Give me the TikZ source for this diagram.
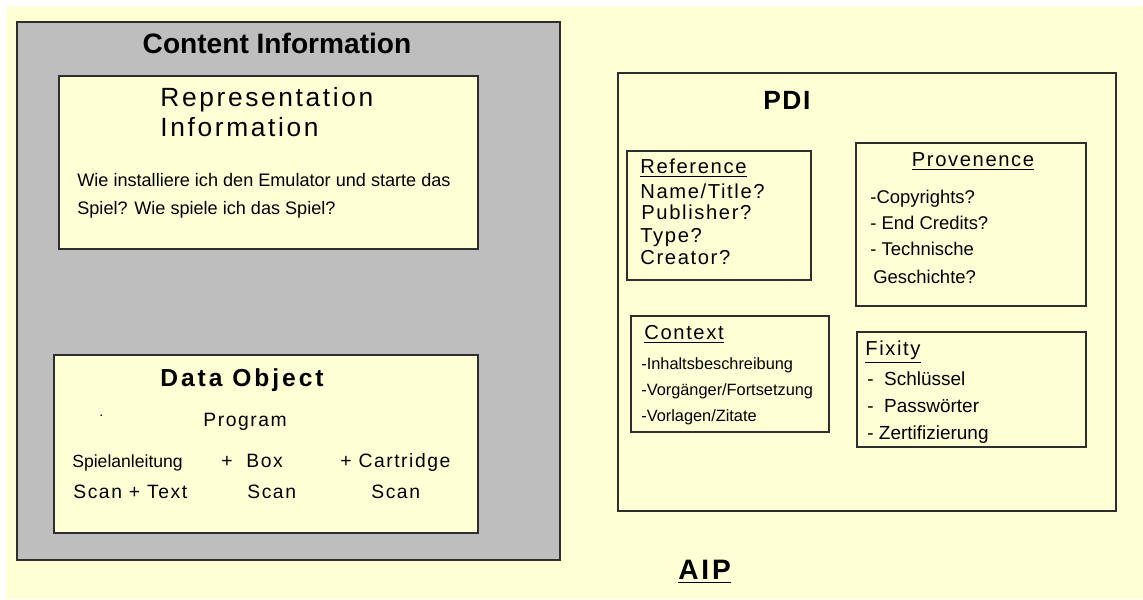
\documentclass[tikz,border=0pt]{standalone}
\usepackage{fontspec}
\setmainfont{Liberation Sans}
\newfontfamily\spaced[LetterSpace=8]{Liberation Sans}
\definecolor{paper}{HTML}{FFFFD6}
\definecolor{cigray}{HTML}{BEBEBE}
\definecolor{frame}{HTML}{2E2E2E}
\tikzset{
  box/.style={draw=frame, line width=0.9pt, fill=paper},
  txt/.style={anchor=west, inner sep=0pt, text height=1.5ex, text depth=.25ex},
  head/.style={txt, font=\spaced\fontsize{11.5}{13}\selectfont},
}
\begin{document}
\begin{tikzpicture}[x=0.02cm, y=-0.02cm]
                        % background and frame
                        \useasboundingbox (0,0) rectangle (1143,599);
                        \fill [white] (0,0) rectangle (1143,599);
                        \fill [paper] (6,6) rectangle (1143,599);

                        % content information
                        \draw [draw=frame, line width=1.1pt, fill=cigray] (17,22) rectangle (560,560);
                        \node [txt, anchor=center, font=\bfseries\fontsize{16}{18}\selectfont] (ci) at (277,48) {Content Information};
                        \draw [box] (59,76) rectangle (478,249);
                        \node [txt, font=\addfontfeature{LetterSpace=10}\fontsize{15}{17}\selectfont] (ri1) at (160,101) {Representation};
                        \node [txt, font=\addfontfeature{LetterSpace=10}\fontsize{15}{17}\selectfont] (ri2) at (160,131) {Information};
                        \node [txt, font=\fontsize{10.3}{12}\selectfont] (rq1) at (77,181) {Wie installiere ich den Emulator und starte das};
                        \node [txt, font=\fontsize{10.3}{12}\selectfont] (rq2) at (77,209) {Spiel? Wie spiele ich das Spiel?};

                        \draw [box] (54,355) rectangle (478,533);
                        \node [txt, font=\bfseries\addfontfeature{LetterSpace=12}\fontsize{14}{16}\selectfont] (do) at (160,381) {Data Object};
                        \node [txt, font=\fontsize{8}{9}\selectfont] (dot) at (99,411) {.};
                        \node [txt, font=\spaced\fontsize{11}{13}\selectfont] (prog) at (203,421) {Program};
                        \node [txt, font=\fontsize{10}{12}\selectfont] (sp) at (72,462) {Spielanleitung};
                        \node [txt, font=\spaced\fontsize{11}{13}\selectfont] (bx) at (221,462) {+\ \ Box};
                        \node [txt, font=\spaced\fontsize{11}{13}\selectfont] (ca) at (340,462) {+ Cartridge};
                        \node [txt, font=\spaced\fontsize{11}{13}\selectfont] (s1) at (73,493) {Scan + Text};
                        \node [txt, font=\spaced\fontsize{11}{13}\selectfont] (s2) at (247,493) {Scan};
                        \node [txt, font=\spaced\fontsize{11}{13}\selectfont] (s3) at (371,493) {Scan};

                        % preservation description information
                        \draw [box] (618,73) rectangle (1116,511);
                        \node [txt, font=\bfseries\addfontfeature{LetterSpace=6}\fontsize{15}{17}\selectfont] (pdi) at (763,104) {PDI};

                        \draw [box] (627,151) rectangle (811,280);
                        \node [head] (ref) at (640,168) {\underline{Reference}};
                        \node [head] (r1) at (640,193) {Name/Title?};
                        \node [head] (r2) at (641,214) {Publisher?};
                        \node [head] (r3) at (640,237) {Type?};
                        \node [head] (r4) at (640,259) {Creator?};

                        \draw [box] (856,143) rectangle (1086,306);
                        \node [head, anchor=center] (prov) at (973,161) {\underline{Provenence}};
                        \node [txt, font=\fontsize{10.5}{12}\selectfont] (p1) at (870,198) {-Copyrights?};
                        \node [txt, font=\fontsize{10.5}{12}\selectfont] (p2) at (870,224) {- End Credits?};
                        \node [txt, font=\fontsize{10.5}{12}\selectfont] (p3) at (870,250) {- Technische};
                        \node [txt, font=\fontsize{10.5}{12}\selectfont] (p4) at (873,278) {Geschichte?};

                        \draw [box] (631,316) rectangle (829,432);
                        \node [head] (ctx) at (644,334) {\underline{Context}};
                        \node [txt, font=\fontsize{9.3}{11}\selectfont] (c1) at (641,364) {-Inhaltsbeschreibung};
                        \node [txt, font=\fontsize{9.3}{11}\selectfont] (c2) at (641,390) {-Vorgänger/Fortsetzung};
                        \node [txt, font=\fontsize{9.3}{11}\selectfont] (c3) at (641,416) {-Vorlagen/Zitate};

                        \draw [box] (857,332) rectangle (1086,447);
                        \node [head] (fix) at (865,350) {\underline{Fixity}};
                        \node [txt, font=\fontsize{10.8}{12}\selectfont] (f1) at (867,380) {-\ \ Schlüssel};
                        \node [txt, font=\fontsize{10.8}{12}\selectfont] (f2) at (867,407) {-\ \ Passwörter};
                        \node [txt, font=\fontsize{10.8}{12}\selectfont] (f3) at (867,434) {- Zertifizierung};

                        \node [txt, font=\bfseries\addfontfeature{LetterSpace=10}\fontsize{16}{18}\selectfont] (aip) at (678,574) {\underline{AIP}};
                    \end{tikzpicture}
\end{document}
